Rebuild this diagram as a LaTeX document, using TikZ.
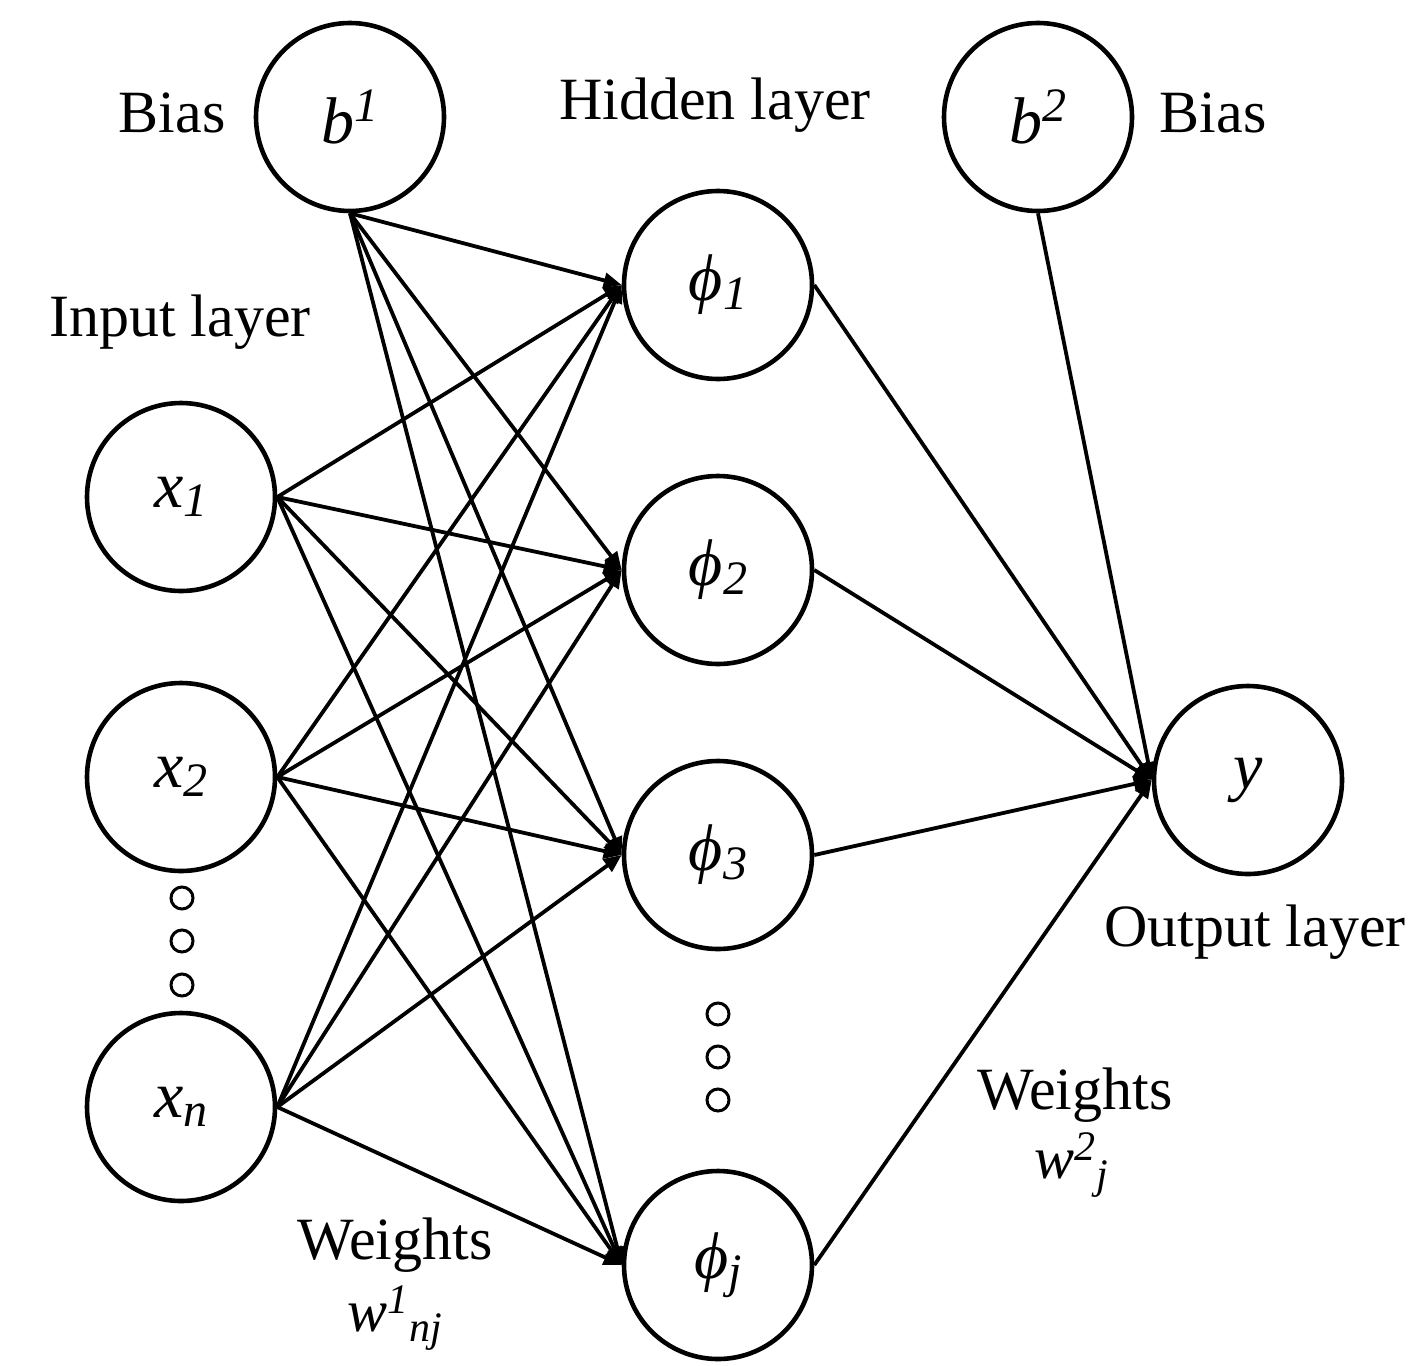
\documentclass[tikz,border=0pt]{standalone}
\usepackage{fontspec}
\setmainfont{Liberation Serif}
\usetikzlibrary{arrows.meta}
\newcommand{\subx}[1]{\raisebox{-0.3ex}{\fontsize{24}{28}\selectfont #1}}
\newcommand{\supx}[1]{\raisebox{0.75ex}{\fontsize{24}{28}\selectfont #1}}
\begin{document}
\begin{tikzpicture}[x=0.5pt,y=-0.5pt,
  neuron/.style={circle,draw,line width=2.3pt,minimum size=94pt,inner sep=0pt,fill=white,font=\fontsize{33}{38}\selectfont\itshape},
  dotc/.style={circle,draw,line width=1.5pt,minimum size=11pt,inner sep=0pt},
  lbl/.style={font=\fontsize{30}{36}\selectfont},
  conn/.style={line width=1.9pt,-{Triangle[length=9pt,width=7.5pt]}},
  link/.style={line width=1.9pt}]
\useasboundingbox (0,0) rectangle (1428,1365);
\fill[white] (0,0) rectangle (1428,1365);
% nodes
\node[neuron] (b1) at (350,117) {b\supx{1}};
\node[neuron] (b2) at (1038,117) {b\supx{2}};
\node[neuron] (x1) at (181,497) {x\subx{1}};
\node[neuron] (x2) at (181,777) {x\subx{2}};
\node[neuron] (xn) at (181,1107) {x\subx{n}};
\node[neuron] (h1) at (718,285) {ϕ\subx{1}};
\node[neuron] (h2) at (718,570) {ϕ\subx{2}};
\node[neuron] (h3) at (718,855) {ϕ\subx{3}};
\node[neuron] (hj) at (718,1265) {ϕ\subx{j}};
\node[neuron] (y) at (1248,780) {y};
% small dots
\node[dotc] (d1) at (182,898) {};
\node[dotc] (d2) at (182,941) {};
\node[dotc] (d3) at (182,985) {};
\node[dotc] (e1) at (718,1014) {};
\node[dotc] (e2) at (718,1057) {};
\node[dotc] (e3) at (718,1100) {};
% labels
\node[lbl] (lb1) at (172,113) {Bias};
\node[lbl] (lh) at (715,105) {Hidden layer};
\node[lbl] (lb2) at (1213,113) {Bias};
\node[lbl] (li) at (180,322) {Input layer};
\node[lbl] (lo) at (1255,932) {Output layer};
\node[lbl] (lw2) at (1075,1095) {Weights};
\node[lbl] (lw2s) at (1072,1165) {\itshape w\textsuperscript{2}\textsubscript{j}};
\node[lbl] (lw1) at (395,1245) {Weights};
\node[lbl] (lw1s) at (395,1318) {\itshape w\textsuperscript{1}\textsubscript{nj}};
% connections
\foreach \s in {x1,x2,xn}{
  \foreach \t in {h1,h2,h3,hj}{
    \draw[conn] (\s.east) -- (\t.west);
  }
}
\foreach \t in {h1,h2,h3,hj}{
  \draw[conn] (b1.south) -- (\t.west);
  \draw[conn] (\t.east) -- (y.west);
}
\draw[conn] (b2.south) -- (y.west);
\end{tikzpicture}
\end{document}
